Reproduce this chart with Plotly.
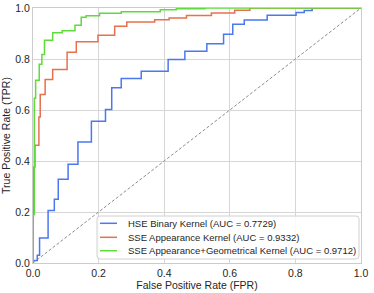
import plotly.graph_objects as go

# ROC curve data
hse_fpr = [0, 0, 0.013, 0.013, 0.02, 0.02, 0.046, 0.046, 0.065, 0.065, 0.077, 0.077,
           0.107, 0.107, 0.137, 0.137, 0.178, 0.178, 0.221, 0.221, 0.24, 0.24, 0.269, 0.269,
           0.33, 0.33, 0.412, 0.412, 0.463, 0.463, 0.530, 0.530, 0.581, 0.581, 0.609, 0.609,
           0.644, 0.644, 0.714, 0.714, 0.802, 0.802, 0.827, 0.827, 0.851, 0.851, 1.0]
hse_tpr = [0, 0.01, 0.01, 0.03, 0.03, 0.098, 0.098, 0.206, 0.206, 0.25, 0.25, 0.328,
           0.328, 0.387, 0.387, 0.475, 0.475, 0.556, 0.556, 0.602, 0.602, 0.687, 0.687, 0.724,
           0.724, 0.752, 0.752, 0.798, 0.798, 0.83, 0.83, 0.86, 0.86, 0.897, 0.897, 0.936,
           0.936, 0.953, 0.953, 0.972, 0.972, 0.982, 0.982, 0.99, 0.99, 1.0, 1.0]

app_fpr = [0, 0, 0.002, 0.002, 0.006, 0.006, 0.018, 0.018, 0.022, 0.022, 0.037, 0.037,
           0.06, 0.06, 0.104, 0.104, 0.132, 0.132, 0.198, 0.198, 0.249, 0.249, 0.286, 0.286,
           0.371, 0.371, 0.415, 0.415, 0.468, 0.468, 0.544, 0.544, 0.615, 0.615, 0.661, 0.661, 1.0]
app_tpr = [0, 0.088, 0.088, 0.376, 0.376, 0.462, 0.462, 0.573, 0.573, 0.661, 0.661, 0.72,
           0.72, 0.759, 0.759, 0.826, 0.826, 0.868, 0.868, 0.893, 0.893, 0.928, 0.928, 0.945,
           0.945, 0.954, 0.954, 0.961, 0.961, 0.971, 0.971, 0.980, 0.980, 0.991, 0.991, 1.0, 1.0]

geo_fpr = [0, 0, 0.004, 0.004, 0.008, 0.008, 0.019, 0.019, 0.027, 0.027, 0.035, 0.035,
           0.060, 0.060, 0.089, 0.089, 0.128, 0.128, 0.147, 0.147, 0.162, 0.162, 0.203, 0.203,
           0.269, 0.269, 0.388, 0.388, 0.437, 0.437, 0.524, 0.524, 1.0]
geo_tpr = [0, 0.19, 0.19, 0.646, 0.646, 0.717, 0.717, 0.779, 0.779, 0.818, 0.818, 0.874,
           0.874, 0.903, 0.903, 0.911, 0.911, 0.932, 0.932, 0.964, 0.964, 0.970, 0.970, 0.979,
           0.979, 0.985, 0.985, 0.993, 0.993, 0.997, 0.997, 1.0, 1.0]

names = ["HSE Binary Kernel (AUC = 0.7729)",
         "SSE Appearance Kernel (AUC = 0.9332)",
         "SSE Appearance+Geometrical Kernel (AUC = 0.9712)"]
colors = ["#4a78f0", "#e8704c", "#5ddc3a"]

chance = [0, 1]
ticks = [0.0, 0.2, 0.4, 0.6, 0.8, 1.0]

FONT = "Arial, Liberation Sans, Helvetica, sans-serif"
TXT = "#262626"

fig = go.Figure()
fig.add_trace(go.Scatter(x=chance, y=chance, mode="lines", showlegend=False,
                         line=dict(color="#8c8c8c", width=1, dash="3px,2px"),
                         hoverinfo="skip"))
series = [(hse_fpr, hse_tpr), (app_fpr, app_tpr), (geo_fpr, geo_tpr)]
for (fx, ty), nm, c in zip(series, names, colors):
    fig.add_trace(go.Scatter(x=fx, y=ty, mode="lines", name=nm, showlegend=False,
                             line=dict(color=c, width=1.5)))

# --- compact legend box (matplotlib style), drawn in paper coordinates ---
W, H = 374, 293
ML, MR, MT, MB = 33, 13, 8, 30
pw, ph = W - ML - MR, H - MT - MB


def px2x(px):
    return (px - ML) / pw


def px2y(py):
    return (H - MB - py) / ph


bx0, bx1, by0, by1 = px2x(97), px2x(359), px2y(259), px2y(216)
rx, ry = 3 / pw, 3 / ph
path = (f"M {bx0+rx},{by0} L {bx1-rx},{by0} Q {bx1},{by0} {bx1},{by0+ry} "
        f"L {bx1},{by1-ry} Q {bx1},{by1} {bx1-rx},{by1} "
        f"L {bx0+rx},{by1} Q {bx0},{by1} {bx0},{by1-ry} "
        f"L {bx0},{by0+ry} Q {bx0},{by0} {bx0+rx},{by0} Z")
shapes = [dict(type="path", xref="paper", yref="paper", path=path,
               fillcolor="rgba(255,255,255,0.85)", line=dict(color="#d0d0d0", width=1),
               layer="above")]
annotations = []
row_y = [223.3, 237.3, 250.7]
for ry_px, nm, c in zip(row_y, names, colors):
    yy = px2y(ry_px)
    shapes.append(dict(type="line", xref="paper", yref="paper",
                       x0=px2x(100), x1=px2x(117), y0=yy, y1=yy,
                       line=dict(color=c, width=1.5), layer="above"))
    annotations.append(dict(xref="paper", yref="paper", x=px2x(126), y=yy,
                            xanchor="left", yanchor="middle", text=nm, showarrow=False,
                            font=dict(family=FONT, size=9.5, color=TXT)))

axis_common = dict(range=[0, 1], tickvals=ticks, tickformat=".1f",
                   showgrid=True, gridcolor="#d6d6d6", gridwidth=1,
                   showline=True, linecolor="#cccccc", linewidth=1, mirror=True,
                   zeroline=False, ticks="", automargin=False,
                   tickfont=dict(family=FONT, size=10.5, color=TXT))

fig.update_layout(
    width=W, height=H,
    margin=dict(l=ML, r=MR, t=MT, b=MB, pad=0),
    paper_bgcolor="white", plot_bgcolor="white",
    font=dict(family=FONT, color=TXT),
    showlegend=False,
    shapes=shapes, annotations=annotations,
    xaxis=dict(**axis_common,
               title=dict(text="False Positive Rate (FPR)", standoff=2,
                          font=dict(family=FONT, size=10.5, color=TXT))),
    yaxis=dict(**axis_common,
               title=dict(text="True Positive Rate (TPR)", standoff=2,
                          font=dict(family=FONT, size=10.5, color=TXT))),
)

fig.write_html("out.html", config={"displayModeBar": False},
               post_script="document.body.style.margin='0px';")
